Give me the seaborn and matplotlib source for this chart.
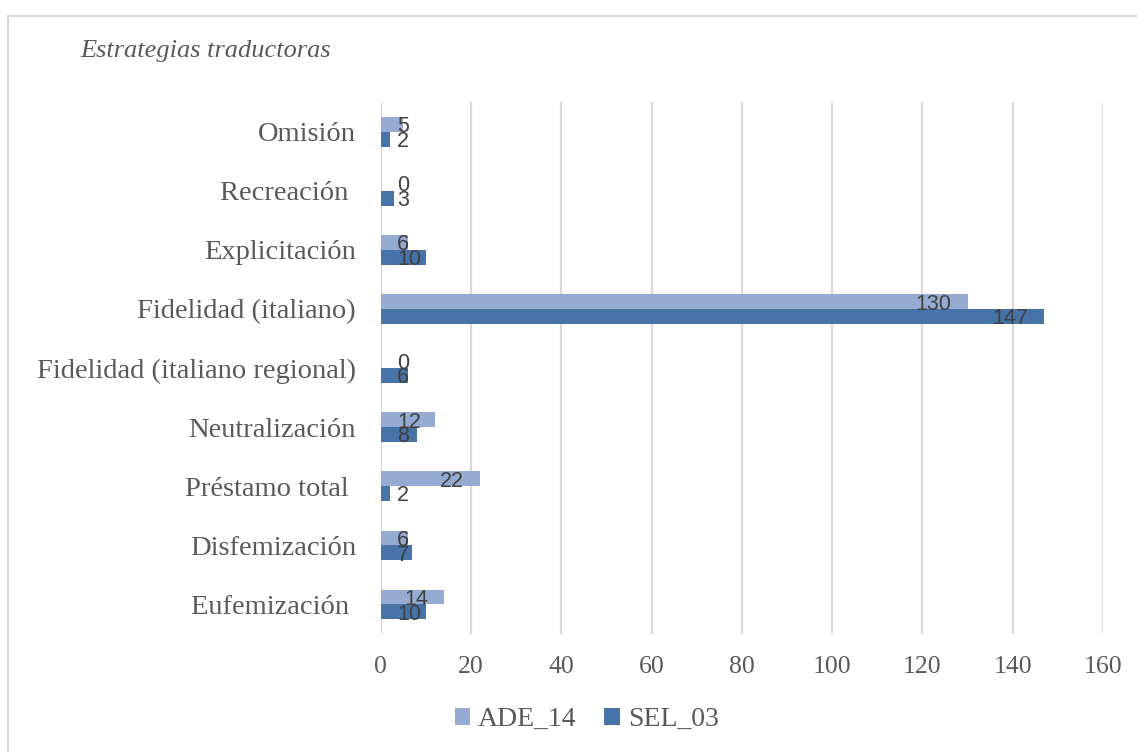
import matplotlib
matplotlib.use("Agg")
import matplotlib.pyplot as plt
import seaborn as sns
import pandas as pd
from matplotlib.lines import Line2D
from matplotlib.patches import Patch

categories = ["Omisión", "Recreación ", "Explicitación", "Fidelidad (italiano)",
              "Fidelidad (italiano regional)", "Neutralización", "Préstamo total ",
              "Disfemización", "Eufemización "]
ade_14 = [5, 0, 6, 130, 0, 12, 22, 6, 14]
sel_03 = [2, 3, 10, 147, 6, 8, 2, 7, 10]
series = ["ADE_14", "SEL_03"]
colors = ["#96abd2", "#4674a9"]
x_ticks = [0, 20, 40, 60, 80, 100, 120, 140, 160]
title = "Estrategias traductoras"

df = pd.DataFrame({
    "cat": categories * 2,
    "val": ade_14 + sel_03,
    "serie": [series[0]] * len(categories) + [series[1]] * len(categories),
})

sns.set_theme(style="white")
serif = ["Liberation Serif", "DejaVu Serif"]
plt.rcParams["font.family"] = serif

fig = plt.figure(figsize=(11.37, 7.52), dpi=100)
ax = fig.add_axes([0.335, 0.157, 0.635, 0.707])

sns.barplot(data=df, y="cat", x="val", hue="serie", hue_order=series,
            order=categories, palette=colors, width=0.5, orient="h",
            linewidth=0, saturation=1, ax=ax, legend=False)

ax.set_xlim(0, 160)
ax.set_xticks(x_ticks)
ax.set_xlabel("")
ax.set_ylabel("")
for s in ax.spines.values():
    s.set_visible(False)
ax.grid(axis="x", color="#d9d9d9", linewidth=1.6)
ax.grid(axis="y", visible=False)
ax.set_axisbelow(True)
ax.tick_params(axis="y", length=0, pad=18, labelsize=20.5, labelcolor="#595959")
ax.tick_params(axis="x", length=0, pad=16, labelsize=18.5, labelcolor="#595959")

# data labels
fig.canvas.draw()
renderer = fig.canvas.get_renderer()
px_per_unit = ax.transData.transform((1, 0))[0] - ax.transData.transform((0, 0))[0]
off = 16 / px_per_unit
for cont in ax.containers:
    for bar in cont:
        v = bar.get_width()
        yc = bar.get_y() + bar.get_height() / 2
        t = ax.text(0, yc, f"{int(round(v))}", ha="left", va="center",
                    fontsize=15.5, color="#404040",
                    family=["Liberation Sans", "DejaVu Sans"])
        w = t.get_window_extent(renderer).width / px_per_unit
        left = max(v - off - w, off)
        t.set_x(left)
        t.set_y(yc + 0.04)

fig.text(0.071, 0.932, title, fontsize=19, style="italic", color="#595959",
         ha="left", va="center", family=serif)

handles = [Patch(facecolor=c, edgecolor="none") for c in colors]
fig.legend(handles, series, loc="center", bbox_to_anchor=(0.516, 0.043), ncol=2,
           frameon=False, handlelength=0.55, handleheight=0.55,
           handletextpad=0.3, columnspacing=1.0, labelcolor="#595959",
           prop={"family": serif, "size": 20})

# chart border (top and left visible)
fig.add_artist(Line2D([8/1137, 8/1137], [0, 1 - 16/752], transform=fig.transFigure,
                      color="#d9d9d9", linewidth=1.5))
fig.add_artist(Line2D([8/1137, 1], [1 - 16/752, 1 - 16/752], transform=fig.transFigure,
                      color="#d9d9d9", linewidth=1.5))

fig.savefig("out.png", dpi=100)
